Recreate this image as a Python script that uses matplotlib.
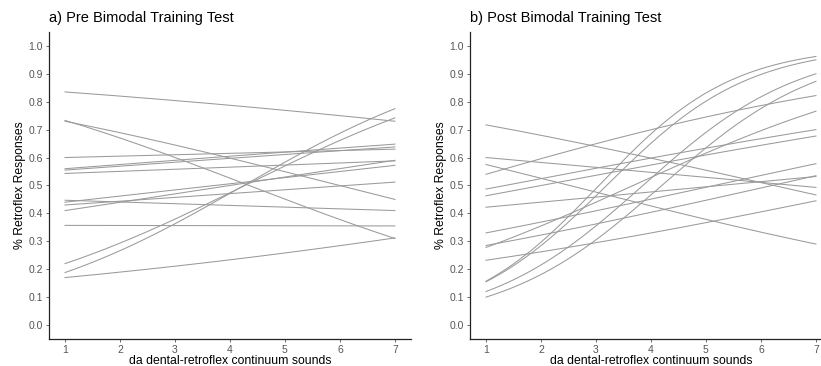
import numpy as np
import matplotlib
matplotlib.use("Agg")
import matplotlib.pyplot as plt

plt.rcParams['font.family'] = ['Liberation Sans', 'DejaVu Sans']

# fitted logistic curves per participant: predicted proportion at step 1 and step 7
pre_start = [0.835, 0.733, 0.730, 0.600, 0.560, 0.555, 0.543, 0.447, 0.440, 0.430, 0.410, 0.357, 0.220, 0.188, 0.170]
pre_end = [0.730, 0.310, 0.450, 0.630, 0.648, 0.638, 0.588, 0.410, 0.572, 0.512, 0.590, 0.355, 0.742, 0.775, 0.312]

post_start = [0.717, 0.600, 0.575, 0.540, 0.487, 0.463, 0.422, 0.330, 0.285, 0.278, 0.232, 0.157, 0.155, 0.120, 0.100]
post_end = [0.466, 0.493, 0.290, 0.822, 0.700, 0.677, 0.532, 0.578, 0.535, 0.766, 0.445, 0.962, 0.950, 0.900, 0.873]

steps = [1, 2, 3, 4, 5, 6, 7]
y_ticks = [0.0, 0.1, 0.2, 0.3, 0.4, 0.5, 0.6, 0.7, 0.8, 0.9, 1.0]


def logit(p):
    p = np.asarray(p)
    return np.log(p / (1 - p))


def draw_panel(ax, starts, ends, title):
    x = np.linspace(1, 7, 200)
    for p1, p7 in zip(starts, ends):
        b = (logit(p7) - logit(p1)) / 6
        a = logit(p1) - b
        ax.plot(x, 1 / (1 + np.exp(-(a + b * x))), color='#9a9a9a', lw=0.75)
    ax.set_xlim(0.7, 7.3)
    ax.set_ylim(-0.05, 1.05)
    ax.set_xticks(steps)
    ax.set_yticks(y_ticks)
    ax.set_yticklabels([f'{v:.1f}' for v in y_ticks])
    for side in ['top', 'right']:
        ax.spines[side].set_visible(False)
    for side in ['left', 'bottom']:
        ax.spines[side].set_linewidth(0.9)
        ax.spines[side].set_color('#222222')
    ax.tick_params(length=2.5, width=0.6, color='#555555', labelcolor='#555555',
                   labelsize=7.5, pad=1.5)
    ax.set_xlabel('da dental-retroflex continuum sounds', fontsize=8.8, labelpad=0)
    ax.set_ylabel('% Retroflex Responses', fontsize=8.8, labelpad=2)
    ax.set_title(title, fontsize=10.5, loc='left', x=0.0, pad=7)


fig = plt.figure(figsize=(8.21, 3.66), dpi=100)
ax1 = fig.add_axes([0.0591, 0.0738, 0.442, 0.839])
ax2 = fig.add_axes([0.5719, 0.0738, 0.442, 0.839])

draw_panel(ax1, pre_start, pre_end, 'a) Pre Bimodal Training Test')
draw_panel(ax2, post_start, post_end, 'b) Post Bimodal Training Test')

fig.savefig('out.png', dpi=100)
